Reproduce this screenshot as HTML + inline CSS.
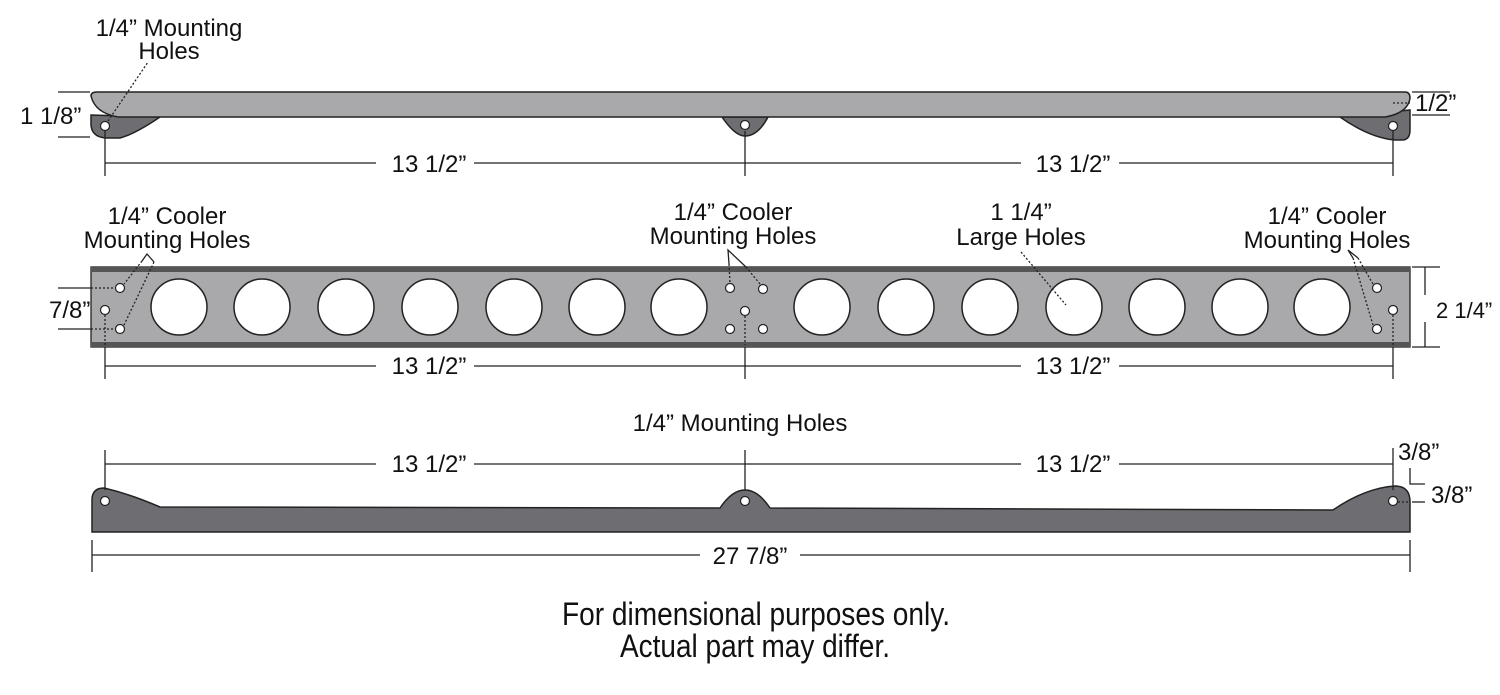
<!DOCTYPE html>
<html><head><meta charset="utf-8"><style>body{margin:0;background:#fff}svg{display:block}</style></head><body>
<svg width="1500" height="695" viewBox="0 0 1500 695" xmlns="http://www.w3.org/2000/svg" font-family="Liberation Sans, sans-serif" fill="#111">
<g stroke="#222" stroke-width="1.5">
<path d="M91 115 L91 125 Q92 138 108 138 L120 138 Q135 134 160 117 Z" fill="#6e6e72"/>
<path d="M722 117 Q735 136 745 136 Q758 136 768 117 Z" fill="#6e6e72"/>
<path d="M1340 117 Q1370 138 1395 140 L1402 140 Q1410 140 1410 130 L1410 110 Z" fill="#6e6e72"/>
<path d="M97 92 L1405 92 Q1410 92 1410 98 Q1408 113 1385 117 L118 117 Q95 113 91 96 Q91 92 97 92 Z" fill="#a9a9ab"/>
</g>
<g fill="#fff" stroke="#222" stroke-width="1.2">
<circle cx="105" cy="126" r="4.5"/><circle cx="745" cy="125" r="4.5"/><circle cx="1393" cy="126" r="4.5"/>
</g>
<g stroke="#222" stroke-width="1.3" fill="none">
<line x1="58" y1="92" x2="90" y2="92"/><line x1="58" y1="137" x2="90" y2="137"/>
<line x1="1412" y1="92" x2="1450" y2="92"/><line x1="1412" y1="115" x2="1450" y2="115"/>
<line x1="105" y1="163" x2="1393" y2="163"/>
<line x1="105" y1="131" x2="105" y2="176"/><line x1="745" y1="131" x2="745" y2="176"/><line x1="1393" y1="131" x2="1393" y2="176"/>
<line x1="108" y1="121" x2="148" y2="62" stroke-dasharray="2,2"/>
<line x1="1393" y1="103" x2="1410" y2="103" stroke-dasharray="2,2"/>
</g>
<rect x="376" y="150" width="98" height="24" fill="#fff"/><rect x="1021" y="150" width="98" height="24" fill="#fff"/>
<g font-size="24">
<text x="169" y="36" text-anchor="middle">1/4” Mounting</text>
<text x="169" y="59" text-anchor="middle">Holes</text>
<text x="20" y="124">1 1/8”</text>
<text x="1415" y="111">1/2”</text>
<text x="429" y="172" text-anchor="middle">13 1/2”</text>
<text x="1073" y="172" text-anchor="middle">13 1/2”</text>
</g>
<rect x="91" y="267" width="1319" height="80" fill="#a9a9ab" stroke="#222" stroke-width="1.3"/>
<rect x="91" y="267" width="1319" height="5" fill="#555"/>
<rect x="91" y="342" width="1319" height="5" fill="#555"/>
<g fill="#fff" stroke="#222" stroke-width="1.5">
<circle cx="179" cy="307" r="28"/><circle cx="262" cy="307" r="28"/><circle cx="346" cy="307" r="28"/><circle cx="430" cy="307" r="28"/><circle cx="514" cy="307" r="28"/><circle cx="597" cy="307" r="28"/><circle cx="679" cy="307" r="28"/><circle cx="822" cy="307" r="28"/><circle cx="906" cy="307" r="28"/><circle cx="990" cy="307" r="28"/><circle cx="1074" cy="307" r="28"/><circle cx="1157" cy="307" r="28"/><circle cx="1240" cy="307" r="28"/><circle cx="1322" cy="307" r="28"/>
</g>
<g fill="#fff" stroke="#222" stroke-width="1.2">
<circle cx="120" cy="288" r="4.5"/><circle cx="120" cy="329" r="4.5"/><circle cx="105" cy="310" r="4.5"/>
<circle cx="730" cy="288" r="4.5"/><circle cx="763" cy="289" r="4.5"/><circle cx="745" cy="311" r="4.5"/><circle cx="730" cy="329" r="4.5"/><circle cx="763" cy="329" r="4.5"/>
<circle cx="1377" cy="288" r="4.5"/><circle cx="1377" cy="329" r="4.5"/><circle cx="1393" cy="310" r="4.5"/>
</g>
<g stroke="#222" stroke-width="1.3" fill="none">
<line x1="58" y1="288" x2="91" y2="288"/><line x1="58" y1="329" x2="91" y2="329"/>
<line x1="91" y1="288" x2="115" y2="288" stroke-dasharray="2,2"/><line x1="91" y1="329" x2="115" y2="329" stroke-dasharray="2,2"/>
<line x1="1412" y1="267" x2="1440" y2="267"/><line x1="1412" y1="347" x2="1440" y2="347"/>
<line x1="1425" y1="267" x2="1425" y2="295"/><line x1="1425" y1="322" x2="1425" y2="347"/>
<polyline points="142,261 147,254 154,262"/>
<line x1="142" y1="261" x2="124" y2="284" stroke-dasharray="2,2"/><line x1="154" y1="262" x2="124" y2="325" stroke-dasharray="2,2"/>
<polyline points="729,264 728,250 746,267"/>
<line x1="729" y1="264" x2="730" y2="283" stroke-dasharray="2,2"/><line x1="746" y1="267" x2="760" y2="284" stroke-dasharray="2,2"/>
<polyline points="1353,258 1348,250 1358,258"/>
<line x1="1353" y1="258" x2="1373" y2="325" stroke-dasharray="2,2"/><line x1="1358" y1="258" x2="1373" y2="284" stroke-dasharray="2,2"/>
<line x1="1021" y1="252" x2="1066" y2="305" stroke-dasharray="2,2"/>
<line x1="105" y1="315" x2="105" y2="345" stroke-dasharray="2,2"/><line x1="745" y1="316" x2="745" y2="345" stroke-dasharray="2,2"/><line x1="1393" y1="315" x2="1393" y2="345" stroke-dasharray="2,2"/>
<line x1="105" y1="347" x2="105" y2="379"/><line x1="745" y1="347" x2="745" y2="379"/><line x1="1393" y1="347" x2="1393" y2="379"/>
<line x1="105" y1="366" x2="1393" y2="366"/>
</g>
<rect x="376" y="353" width="98" height="24" fill="#fff"/><rect x="1021" y="353" width="98" height="24" fill="#fff"/>
<g font-size="24">
<text x="167" y="224" text-anchor="middle">1/4” Cooler</text>
<text x="167" y="248" text-anchor="middle">Mounting Holes</text>
<text x="733" y="220" text-anchor="middle">1/4” Cooler</text>
<text x="733" y="244" text-anchor="middle">Mounting Holes</text>
<text x="1021" y="220" text-anchor="middle">1 1/4”</text>
<text x="1021" y="245" text-anchor="middle">Large Holes</text>
<text x="1327" y="224" text-anchor="middle">1/4” Cooler</text>
<text x="1327" y="248" text-anchor="middle">Mounting Holes</text>
<text x="49" y="318">7/8”</text>
<text x="1436" y="318" font-size="22">2 1/4”</text>
<text x="429" y="374" text-anchor="middle">13 1/2”</text>
<text x="1073" y="374" text-anchor="middle">13 1/2”</text>
<text x="740" y="431" text-anchor="middle">1/4” Mounting Holes</text>
</g>
<path d="M92 532 L92 500 Q92 488 104 488 Q130 494 160 507 L720 508 Q732 490 745 490 Q758 490 770 508 L1333 510 Q1365 488 1395 486 Q1410 486 1410 502 L1410 532 Z" fill="#6e6e72" stroke="#222" stroke-width="1.5"/>
<g fill="#fff" stroke="#222" stroke-width="1.2">
<circle cx="105" cy="501" r="4.5"/><circle cx="745" cy="501" r="4.5"/><circle cx="1393" cy="501" r="4.5"/>
</g>
<g stroke="#222" stroke-width="1.3" fill="none">
<line x1="105" y1="464" x2="1393" y2="464"/>
<line x1="105" y1="450" x2="105" y2="490"/><line x1="745" y1="450" x2="745" y2="490"/><line x1="1393" y1="448" x2="1393" y2="490"/>
<polyline points="1410,468 1410,484 1425,484"/>
<line x1="1398" y1="502" x2="1410" y2="502" stroke-dasharray="2,2"/><line x1="1412" y1="502" x2="1425" y2="502"/>
<line x1="92" y1="555" x2="1410" y2="555"/>
<line x1="92" y1="540" x2="92" y2="572"/><line x1="1410" y1="540" x2="1410" y2="572"/>
</g>
<rect x="376" y="451" width="98" height="24" fill="#fff"/><rect x="1021" y="451" width="98" height="24" fill="#fff"/><rect x="700" y="542" width="100" height="24" fill="#fff"/>
<g font-size="24">
<text x="429" y="472" text-anchor="middle">13 1/2”</text>
<text x="1073" y="472" text-anchor="middle">13 1/2”</text>
<text x="1398" y="460">3/8”</text>
<text x="1431" y="503">3/8”</text>
<text x="750" y="564" text-anchor="middle">27 7/8”</text>
</g>
<g font-size="32">
<text x="562" y="625" textLength="388" lengthAdjust="spacingAndGlyphs">For dimensional purposes only.</text>
<text x="620" y="657" textLength="270" lengthAdjust="spacingAndGlyphs">Actual part may differ.</text>
</g>
</svg>
</body></html>
